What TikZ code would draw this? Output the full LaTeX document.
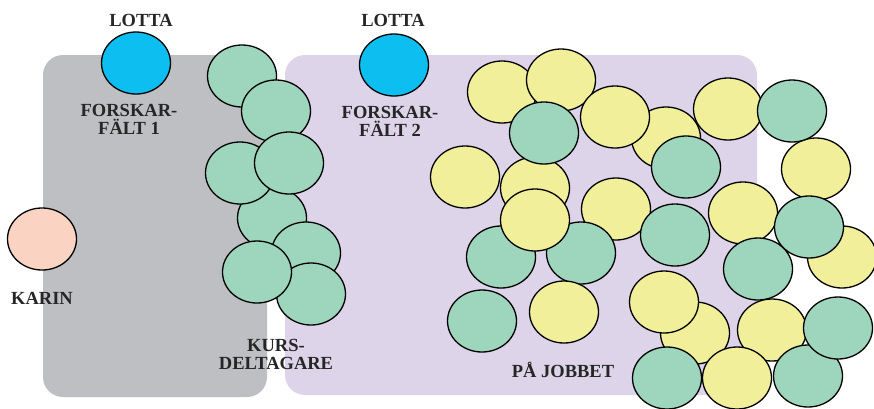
\documentclass[tikz,border=0pt]{standalone}
\usepackage{fontspec}
\setmainfont{Liberation Serif}
\usepackage{tikz}
\usetikzlibrary{shapes.geometric}
\usepackage[dvipsnames]{xcolor}

\definecolor{rutgra}{HTML}{BEBFC3}
\definecolor{rutlila}{HTML}{DDD4E9}
\definecolor{lottabla}{HTML}{0DBFF0}
\definecolor{karinrosa}{HTML}{FBD3C3}
\definecolor{deltgron}{HTML}{9ED5BD}
\definecolor{jobbgul}{HTML}{F1EF9A}

\begin{document}
\begin{tikzpicture}[x=1pt,y=-1pt]
        \useasboundingbox (0,0) rectangle (874,408);
        \clip (0,0) rectangle (874,408);

        \fill[rutgra,rounded corners=20pt] (43,55) rectangle (267,397);
        \fill[rutlila,rounded corners=20pt] (285,55) rectangle (757,395);

        \begin{scope}[
            every node/.style={shape=ellipse,draw=black,line width=1.3pt,
                minimum width=69pt,minimum height=62pt,inner sep=0pt}
        ]
            \node[fill=lottabla] (L1) at (136,63) {};
            \node[fill=lottabla] (L2) at (394,65) {};
            \node[fill=karinrosa] (K1) at (42,239) {};

            \node[fill=deltgron] (D1) at (242,76) {};
            \node[fill=deltgron] (D2) at (276,111) {};
            \node[fill=deltgron] (D3) at (272,218) {};
            \node[fill=deltgron] (D4) at (240,173) {};
            \node[fill=deltgron] (D5) at (289,163) {};
            \node[fill=deltgron] (D6) at (306,253) {};
            \node[fill=deltgron] (D7) at (311,294) {};
            \node[fill=deltgron] (D8) at (257,272) {};

            \node[fill=jobbgul] (Y1) at (465,177) {};
            \node[fill=jobbgul] (Y2) at (535,188) {};
            \node[fill=jobbgul] (Y3) at (502,92) {};
            \node[fill=jobbgul] (Y4) at (561,80) {};
            \node[fill=deltgron] (G1) at (544,133) {};
            \node[fill=jobbgul] (Y5) at (666,138) {};
            \node[fill=jobbgul] (Y6) at (615,117) {};
            \node[fill=deltgron] (G2) at (686,167) {};
            \node[fill=jobbgul] (Y7) at (728,109) {};
            \node[fill=jobbgul] (Y8) at (816,169) {};
            \node[fill=deltgron] (G3) at (792,111) {};
            \node[fill=jobbgul] (Y9) at (616,209) {};
            \node[fill=deltgron] (G4) at (501,257) {};
            \node[fill=deltgron] (G5) at (581,253) {};
            \node[fill=jobbgul] (Y10) at (535,220) {};
            \node[fill=deltgron] (G6) at (675,235) {};
            \node[fill=jobbgul] (Y11) at (743,213) {};
            \node[fill=jobbgul] (Y12) at (842,257) {};
            \node[fill=deltgron] (G7) at (758,269) {};
            \node[fill=deltgron] (G8) at (809,227) {};
            \node[fill=jobbgul] (Y13) at (695,333) {};
            \node[fill=jobbgul] (Y14) at (664,302) {};
            \node[fill=jobbgul] (Y15) at (772,330) {};
            \node[fill=deltgron] (G9) at (808,376) {};
            \node[fill=deltgron] (G10) at (838,328) {};
            \node[fill=deltgron] (G11) at (667,378) {};
            \node[fill=jobbgul] (Y16) at (737,378) {};
            \node[fill=deltgron] (G12) at (482,321) {};
            \node[fill=jobbgul] (Y17) at (564,312) {};
        \end{scope}

        \begin{scope}[
            every node/.style={font=\fontsize{18.5}{18}\selectfont\bfseries,
                text=black!85,align=center,inner sep=0pt}
        ]
            \node (T1) at (141,20) {LOTTA};
            \node (T2) at (393,20) {LOTTA};
            \node (T3) at (129,119) {FORSKAR-\\FÄLT 1};
            \node (T4) at (390,121) {FORSKAR-\\FÄLT 2};
            \node (T5) at (42,298) {KARIN};
            \node (T6) at (276,354) {KURS-\\DELTAGARE};
            \node (T7) at (563,370) {PÅ JOBBET};
        \end{scope}
    \end{tikzpicture}
\end{document}
